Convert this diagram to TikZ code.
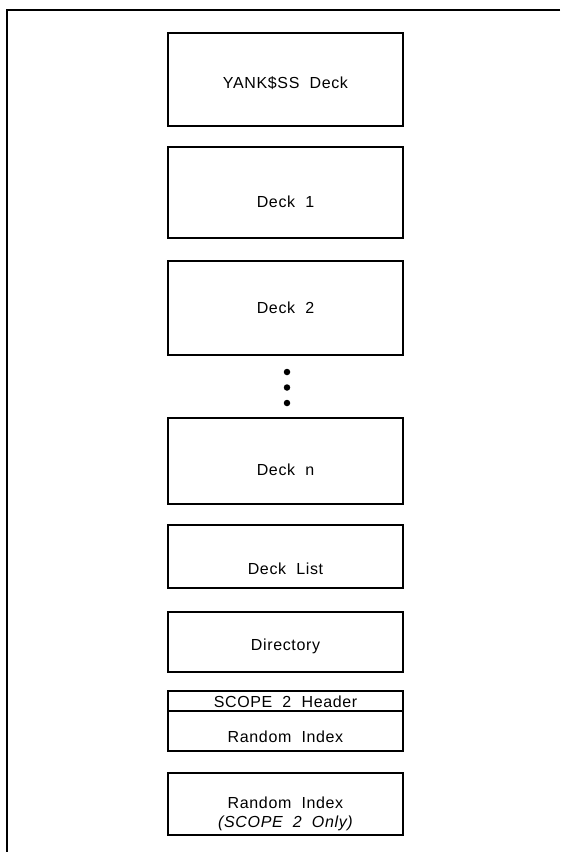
\documentclass[tikz,border=0pt]{standalone}
\usepackage{fontspec}
\setmainfont{Liberation Sans}[LetterSpace=4]
\usetikzlibrary{calc}
\begin{document}
\begin{tikzpicture}[x=1pt,y=-1pt,
  box/.style={draw=black,line width=2.4pt,minimum width=235pt,inner sep=0pt,outer sep=0pt},
  lbl/.style={font=\fontsize{16}{18}\selectfont,inner sep=0pt,anchor=center},
  frame/.style={line width=2.2pt},
  dot/.style={circle,fill=black,minimum size=6.5pt,inner sep=0pt}]
\useasboundingbox (0,0) rectangle (560,852);
\coordinate (ftl) at (7,10);
\coordinate (ftr) at (560,10);
\coordinate (fbl) at (7,852);
\draw[frame] (ftr) -- (ftl) -- (fbl);

\node[box,minimum height=93pt] (yank) at (285.5,79.5) {};
\node[lbl] (yankt) at (285.5,83) {YANK\$SS\ \ Deck};

\node[box,minimum height=91pt] (d1) at (285.5,192.5) {};
\node[lbl] (d1t) at (285.5,202) {Deck\ \ 1};

\node[box,minimum height=94pt] (d2) at (285.5,308) {};
\node[lbl] (d2t) at (285.5,308) {Deck\ \ 2};

\node[dot] (p1) at (287,372) {};
\node[dot] (p2) at (287,387.5) {};
\node[dot] (p3) at (287,403) {};

\node[box,minimum height=86pt] (dn) at (285.5,461) {};
\node[lbl] (dnt) at (285.5,470) {Deck\ \ n};

\node[box,minimum height=63pt] (dl) at (285.5,556.5) {};
\node[lbl] (dlt) at (285.5,569) {Deck\ \ List};

\node[box,minimum height=60pt] (dir) at (285.5,642) {};
\node[lbl] (dirt) at (285.5,646) {Directory};

\node[box,minimum height=60pt] (sc) at (285.5,721) {};
\coordinate (scl) at ($(sc.west)+(0,-10)$);
\coordinate (scr) at ($(sc.east)+(0,-10)$);
\draw[line width=1.6pt] (scl) -- (scr);
\node[lbl] (sch) at (285.5,701.5) {SCOPE\ \ 2\ \ Header};
\node[lbl] (scri) at (285.5,737) {Random\ \ Index};

\node[box,minimum height=62pt] (ri) at (285.5,804) {};
\node[lbl] (rit) at (285.5,803) {Random\ \ Index};
\node[lbl] (rit2) at (285.5,823) {\itshape (SCOPE\ \ 2\ \ Only)};
\end{tikzpicture}
\end{document}
